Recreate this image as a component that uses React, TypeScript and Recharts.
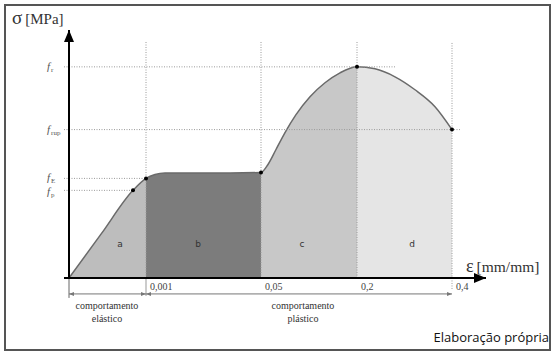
import {
  ComposedChart,
  Area,
  Scatter,
  XAxis,
  YAxis,
  ReferenceLine,
} from "recharts";

// schematic diagram: x and y are in drawing units along each axis
const curveX = [0, 32, 64, 77, 86, 96, 131, 161, 192, 199, 207, 216, 227, 241, 256, 271, 288, 306, 326, 346, 366, 383];
const curveY = [0, 44, 88, 100, 104, 105.5, 105.5, 105.5, 106, 114, 129, 146, 164, 182, 196, 206, 212, 210, 202, 189, 172, 149];

const strainTicks = [77, 192, 288, 383];
const strainLabels = ["0,001", "0,05", "0,2", "0,4"];

const stressTicks = [88, 100, 149, 212];
const stressSubs = ["p", "E", "rup", "r"];
const stressLineEnds = [64, 77, 391, 326];

const markedX = [64, 77, 192, 288, 383];
const markedY = [88, 100, 106, 212, 149];

const zoneNames = ["a", "b", "c", "d"];
const zoneLabelX = [51, 129, 233, 343];
const zoneLabelY = 34;
const zoneColors = ["#bdbdbd", "#7c7c7c", "#c8c8c8", "#e5e5e5"];

const X_MAX = 417;
const Y_MAX = 249;

const curveData = curveX.map((x, i) => ({ x, y: curveY[i] }));
const dots = markedX.map((x, i) => ({ x, y: markedY[i] }));
const zoneText = zoneNames.map((name, i) => ({ x: zoneLabelX[i], y: zoneLabelY, name }));

// gradient stops at the zone boundaries (area spans 0..383)
const span = curveX[curveX.length - 1];
const stops = [0, strainTicks[0] / span, strainTicks[1] / span, strainTicks[2] / span, 1];

const head = (x1: number, y1: number, x2: number, y2: number, len: number, half: number, fill: string) => {
  const a = Math.atan2(y2 - y1, x2 - x1);
  const bx = x2 - len * Math.cos(a);
  const by = y2 - len * Math.sin(a);
  const px = half * Math.sin(a);
  const py = -half * Math.cos(a);
  return <polygon points={`${x2},${y2} ${bx + px},${by + py} ${bx - px},${by - py}`} fill={fill} />;
};

const arrowLine =
  (color: string, width: number, both: boolean, len: number, half: number) =>
  (props: any) => {
    const { x1, y1, x2, y2 } = props;
    return (
      <g>
        <line x1={x1} y1={y1} x2={x2} y2={y2} stroke={color} strokeWidth={width} />
        {head(x1, y1, x2, y2, len, half, color)}
        {both && head(x2, y2, x1, y1, len, half, color)}
      </g>
    );
  };

const StrainTick = (props: any) => {
  const { x, y, payload, index } = props;
  return (
    <text x={x + 4} y={y + 4} fontSize={10} fill="#444" fontFamily="Liberation Serif">
      {strainLabels[index] ?? payload.value}
    </text>
  );
};

const StressTick = (props: any) => {
  const { y, index } = props;
  // f_p sits a hair lower so it does not run into f_E
  const shift = index === 0 ? 1.5 : index === 1 ? -0.5 : 0;
  return (
    <text x={47} y={y + 3 + shift} fill="#555" fontFamily="Liberation Serif">
      <tspan fontSize={11} fontStyle="italic">f</tspan>
      <tspan fontSize={7} dy={2} dx={1}>{stressSubs[index]}</tspan>
    </text>
  );
};

const serif = "'Liberation Serif', serif";

export default function App() {
  return (
    <div style={{ position: "absolute", left: 0, top: 0, width: 558, height: 359, background: "#fff" }}>
      <ComposedChart
        width={558}
        height={359}
        data={curveData}
        margin={{ top: 30, right: 72, bottom: 61, left: 29 }}
      >
        <defs>
          <linearGradient id="zones" x1="0" y1="0" x2="1" y2="0">
            {zoneColors.map((c, i) => [
              <stop key={`s${i}`} offset={stops[i]} stopColor={c} />,
              <stop key={`e${i}`} offset={stops[i + 1]} stopColor={c} />,
            ])}
          </linearGradient>
        </defs>
        <XAxis
          dataKey="x"
          type="number"
          domain={[0, X_MAX]}
          ticks={strainTicks}
          tick={<StrainTick />}
          tickLine={false}
          axisLine={false}
          height={20}
          interval={0}
        />
        <YAxis
          type="number"
          domain={[0, Y_MAX]}
          ticks={stressTicks}
          tick={<StressTick />}
          tickLine={false}
          axisLine={false}
          width={40}
          interval={0}
        />
        {stressTicks.map((v, i) => (
          <ReferenceLine
            key={`h${i}`}
            segment={[{ x: -5, y: v }, { x: stressLineEnds[i], y: v }]}
            stroke="#9a9a9a"
            strokeDasharray="1 1.5"
            ifOverflow="visible"
          />
        ))}
        <Area
          dataKey="y"
          type="monotone"
          fill="url(#zones)"
          fillOpacity={1}
          stroke="#6a6a6a"
          strokeWidth={1.5}
          isAnimationActive={false}
        />
        {strainTicks.map((v, i) => (
          <ReferenceLine
            key={`v${i}`}
            segment={[{ x: v, y: i === 3 ? -11 : 0 }, { x: v, y: 237 }]}
            stroke="#9a9a9a"
            strokeDasharray="1 1.5"
            ifOverflow="visible"
          />
        ))}
        <ReferenceLine segment={[{ x: 0, y: 0 }, { x: 0, y: -20 }]} stroke="#666" ifOverflow="visible" />
        <ReferenceLine segment={[{ x: 77, y: 0 }, { x: 77, y: -18 }]} stroke="#999" ifOverflow="visible" />
        <ReferenceLine
          segment={[{ x: 0, y: -16 }, { x: 77, y: -16 }]}
          ifOverflow="visible"
          shape={arrowLine("#777", 1, true, 5, 2)}
        />
        <ReferenceLine
          segment={[{ x: 77, y: -16 }, { x: 383, y: -16 }]}
          ifOverflow="visible"
          shape={arrowLine("#777", 1, true, 5, 2)}
        />
        <ReferenceLine
          segment={[{ x: -5, y: 0 }, { x: X_MAX, y: 0 }]}
          ifOverflow="visible"
          shape={arrowLine("#000", 2, false, 12, 5)}
        />
        <ReferenceLine
          segment={[{ x: 0, y: -1 }, { x: 0, y: Y_MAX }]}
          ifOverflow="visible"
          shape={arrowLine("#000", 2, false, 12, 5)}
        />
        <Scatter
          data={dots}
          dataKey="y"
          fill="#000"
          isAnimationActive={false}
          shape={(p: any) => <circle cx={p.cx} cy={p.cy} r={2} fill="#000" />}
        />
        <Scatter
          data={zoneText}
          dataKey="y"
          isAnimationActive={false}
          shape={(p: any) => (
            <text x={p.cx} y={p.cy + 3} textAnchor="middle" fontSize={9} fill="#333" fontFamily="DejaVu Sans">
              {p.payload.name}
            </text>
          )}
        />
      </ComposedChart>

      <div style={{ position: "absolute", left: 4, top: 4, width: 547, height: 347, border: "2px solid #555", boxSizing: "border-box", pointerEvents: "none" }} />

      <div style={{ position: "absolute", left: 12, top: 8, fontFamily: serif, color: "#333", whiteSpace: "nowrap", lineHeight: "20px" }}>
        <span style={{ fontSize: 19 }}>σ</span>
        <span style={{ fontSize: 15, marginLeft: 3 }}>[MPa]</span>
      </div>
      <div style={{ position: "absolute", left: 466, top: 256, fontFamily: serif, color: "#333", whiteSpace: "nowrap", lineHeight: "20px" }}>
        <span style={{ fontSize: 18 }}>ε</span>
        <span style={{ fontSize: 15.5, marginLeft: 3 }}>[mm/mm]</span>
      </div>
      <div style={{ position: "absolute", left: 57, width: 100, top: 299, textAlign: "center", fontFamily: serif, fontSize: 10, color: "#333", lineHeight: "13px" }}>
        comportamento<br />elástico
      </div>
      <div style={{ position: "absolute", left: 253, width: 100, top: 299, textAlign: "center", fontFamily: serif, fontSize: 10, color: "#333", lineHeight: "13px" }}>
        comportamento<br />plástico
      </div>
      <div style={{ position: "absolute", right: 9, top: 328, fontFamily: "'Open Sans', sans-serif", fontSize: 13, color: "#111", whiteSpace: "nowrap" }}>
        Elaboração própria
      </div>
    </div>
  );
}
